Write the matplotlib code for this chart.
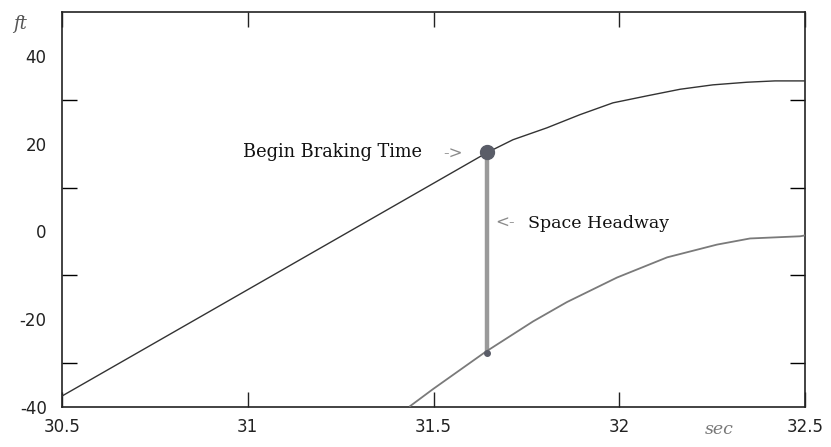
import numpy as np
import matplotlib
matplotlib.use("Agg")
import matplotlib.pyplot as plt

plt.rcParams['axes.unicode_minus'] = False

# lead vehicle position (ft) vs time (sec)
lead_t = [30.5, 31.645, 31.714, 31.805, 31.894, 31.983, 32.075, 32.164, 32.252, 32.344, 32.419, 32.5]
lead_y = [-37.5, 18.0, 20.9, 23.6, 26.6, 29.3, 30.9, 32.4, 33.4, 34.0, 34.3, 34.3]

# following vehicle position (ft) vs time (sec)
follow_t = [31.437, 31.499, 31.639, 31.768, 31.859, 31.994, 32.129, 32.263, 32.352, 32.487, 32.5]
follow_y = [-39.8, -35.9, -27.5, -20.5, -16.1, -10.5, -5.9, -3.0, -1.6, -1.1, -0.9]

# begin braking time and the headway at that moment
brake_t = 31.645
brake_lead = 18.0
brake_follow = -27.8

xticks = [30.5, 31, 31.5, 32, 32.5]
xtick_labels = ['30.5', '31', '31.5', '32', '32.5']
yticks = [-40, -20, 0, 20, 40]
ytick_labels = ['-40', '-20', '0', '20', '40']
yminor = [-30, -10, 10, 30]

fig = plt.figure(figsize=(8.31, 4.47), dpi=100)
ax = fig.add_axes([62/831, 1 - 407/447, (805-62)/831, (407-12)/447])

ax.plot(lead_t, lead_y, color='#333333', lw=1.0, zorder=3)
ax.plot(follow_t, follow_y, color='#7a7a7a', lw=1.3, zorder=3)

# space headway bar
ax.plot([brake_t, brake_t], [brake_lead, brake_follow], color='#9a9a9a', lw=3.2,
        solid_capstyle='butt', zorder=2)
ax.plot(brake_t, brake_lead, 'o', color='#5a5d68', ms=10, zorder=4)
ax.plot(brake_t, brake_follow, 'o', color='#5a5d68', ms=4, zorder=4)

serif = ['DejaVu Serif']
ax.text(30.987, 18.0, 'Begin Braking Time', family=serif, fontsize=12.8,
        color='#111111', va='center', ha='left')
ax.text(31.526, 17.6, '->', family=serif, fontsize=12, color='#8a8a8a',
        va='center', ha='left')
ax.text(31.667, 1.8, '<-', family=serif, fontsize=12, color='#8a8a8a',
        va='center', ha='left')
ax.text(31.755, 1.8, 'Space Headway', family=serif, fontsize=12.5,
        color='#111111', va='center', ha='left')

ax.set_xlim(30.5, 32.5)
ax.set_ylim(-40, 50)

ax.set_xticks(xticks)
ax.set_xticklabels(xtick_labels)
ax.set_yticks(yticks)
ax.set_yticklabels(ytick_labels)
ax.set_yticks(yminor, minor=True)

ax.tick_params(axis='x', which='major', direction='in', length=10.5, width=1,
               top=True, bottom=True, labelsize=12, pad=8, colors='#222222')
ax.tick_params(axis='y', which='major', length=0, labelsize=12, pad=11,
               colors='#222222')
ax.tick_params(axis='y', which='minor', direction='in', length=10.5, width=1,
               left=True, right=True)

for s in ax.spines.values():
    s.set_linewidth(1.2)
    s.set_color('#222222')

fig.text(20/831, 1 - 24/447, 'ft', family=serif, style='italic', fontsize=13,
         color='#555555', ha='center', va='center')
fig.text(719/831, 1 - 430/447, 'sec', family=serif, style='italic', fontsize=12.5,
         color='#777777', ha='center', va='center')

fig.savefig('out.png', dpi=100)
